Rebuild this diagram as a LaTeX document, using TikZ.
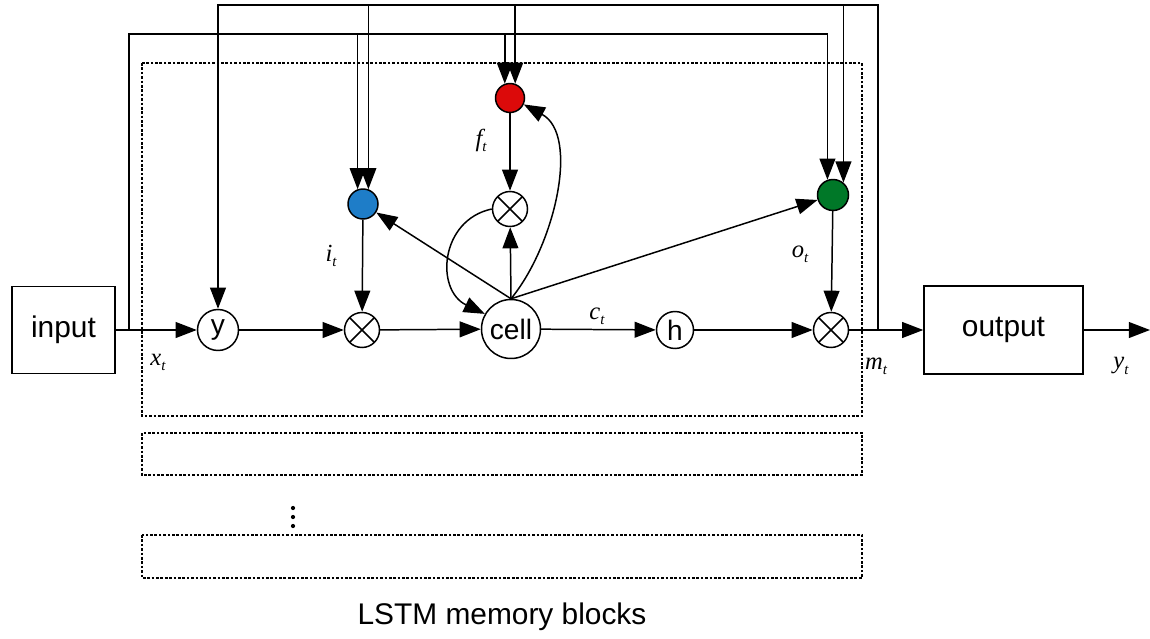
\documentclass[tikz,border=0pt]{standalone}
\usepackage{fontspec}
\setmainfont{Liberation Sans}
\newfontfamily\tms{Liberation Serif}
\usetikzlibrary{arrows.meta}
\definecolor{gblue}{RGB}{30,125,200}
\definecolor{gred}{RGB}{220,10,10}
\definecolor{ggreen}{RGB}{0,120,40}
\newcommand\lbl[2]{{\fontsize{14}{14}\selectfont\tms\itshape #1\raisebox{-0.45ex}{\fontsize{8.5}{8.5}\selectfont #2}}}
\begin{document}
\begin{tikzpicture}[x=0.02cm,y=-0.02cm,line width=0.85pt,
  arr/.style={-{Triangle[length=12pt,width=9pt]}},
  circ/.style={draw,circle,inner sep=0pt,font=\fontsize{16}{16}\selectfont},
  mult/.style={draw,circle,inner sep=0pt,minimum size=0.7cm,
    path picture={\draw (path picture bounding box.north west)--(path picture bounding box.south east)
      (path picture bounding box.north east)--(path picture bounding box.south west);}},
  gate/.style={draw,circle,inner sep=0pt,minimum size=0.6cm},
  blk/.style={draw,line width=0.6pt,dash pattern=on 1.5pt off 1pt},
  dotn/.style={circle,fill=black,inner sep=0pt,minimum size=2.4pt},
  box/.style={draw,rectangle,inner sep=0pt,font=\fontsize{17}{17}\selectfont}]
\useasboundingbox (0,0) rectangle (1150,639);
% memory blocks
\draw[blk] (142,63) rectangle (862,416);
\draw[blk] (142,433) rectangle (862,475);
\draw[blk] (142,535) rectangle (862,578);
\node[dotn] (d1) at (293,508) {};
\node[dotn] (d2) at (293,517) {};
\node[dotn] (d3) at (293,526) {};
\node (title) at (502,617) {\fontsize{17}{17}\selectfont LSTM memory blocks};
% nodes
\node[box,minimum width=2.06cm,minimum height=1.74cm] (input) at (63.5,330) {input};
\node[circ,minimum size=0.82cm] (y) at (218,330) {y};
\node[mult] (m1) at (362,330) {};
\node[circ,minimum size=1.18cm] (cell) at (511,329) {cell};
\node[circ,minimum size=0.74cm] (h) at (675,330) {h};
\node[mult] (mo) at (831,330) {};
\node[box,minimum width=3.18cm,minimum height=1.76cm] (output) at (1003.5,330) {output};
\node[gate,fill=gblue] (ig) at (363,204) {};
\node[gate,fill=gred,minimum size=0.58cm] (fg) at (510,98) {};
\node[mult] (fm) at (510,209) {};
\node[gate,fill=ggreen,minimum size=0.62cm] (og) at (833,195) {};
% coordinates
\coordinate (xt) at (129,330);
\coordinate (mt) at (878,330);
\coordinate (lvA) at (0,34);
\coordinate (lvB) at (0,5);
\coordinate (yend) at (1150,330);
% main line
\draw[arr] (input) -- (y);
\draw[arr] (y) -- (m1);
\draw[arr] (m1) -- (cell);
\draw[arr] (cell) -- (h);
\draw[arr] (h) -- (mo);
\draw[arr] (mo) -- (output);
\draw[arr] (output) -- (yend);
% feedback of x_t
\draw[arr] (xt) -- (xt |- lvA) -| (og.110);
\draw[arr] (ig.110 |- lvA) -- (ig.110);
\draw[arr] (fg.110 |- lvA) -- (fg.110);
% feedback of m_t
\draw[arr] (mt) -- (mt |- lvB) -| (y.north);
\draw[arr] (ig.70 |- lvB) -- (ig.70);
\draw[arr] (fg.70 |- lvB) -- (fg.70);
\draw[arr] (og.50 |- lvB) -- (og.50);
% gate connections
\draw[arr] (ig) -- (m1);
\draw[arr] (fg) -- (fm);
\draw[arr] (og) -- (mo);
\draw[arr] (cell.north) -- (ig);
\draw[arr] (cell.north) -- (fm);
\draw[arr] (cell.north) -- (og);
\draw[arr] (cell.north) .. controls (555,245) and (580,135) .. (fg.-25);
\draw[arr] (fm.west) .. controls (440,220) and (435,290) .. (cell.150);
% labels
\node (lx) at (158,362) {\lbl{x}{t}};
\node (li) at (331,256) {\lbl{i}{t}};
\node (lf) at (481,140) {\lbl{f}{t}};
\node (lc) at (597,316) {\lbl{c}{t}};
\node (lo) at (800,254) {\lbl{o}{t}};
\node (lm) at (876,366) {\lbl{m}{t}};
\node (ly) at (1121,366) {\lbl{y}{t}};
\end{tikzpicture}
\end{document}
